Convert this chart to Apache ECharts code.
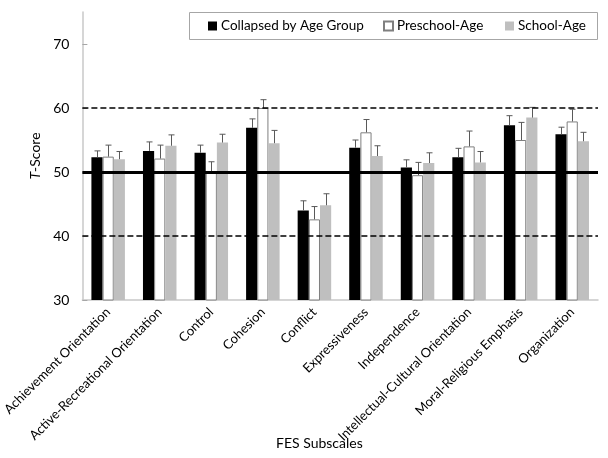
<!DOCTYPE html>
<html>
<head>
<meta charset="utf-8">
<script src="https://cdn.jsdelivr.net/npm/echarts@6/dist/echarts.min.js"></script>
<style>
  html, body { margin: 0; padding: 0; background: #fff; }
  #chart { width: 608px; height: 458px; }
</style>
</head>
<body>
<div id="chart"></div>
<script>
var categories = ['Achievement Orientation', 'Active-Recreational Orientation', 'Control', 'Cohesion',
    'Conflict', 'Expressiveness', 'Independence', 'Intellectual-Cultural Orientation',
    'Moral-Religious Emphasis', 'Organization'];
var collapsed = [52.3, 53.3, 53.0, 56.9, 44.0, 53.8, 50.7, 52.3, 57.3, 55.9];
var collapsedErr = [1.0, 1.4, 1.2, 1.4, 1.5, 1.2, 1.2, 1.4, 1.5, 1.1];
var preschool = [52.4, 52.1, 50.0, 60.0, 42.6, 56.2, 49.5, 54.0, 55.0, 57.9];
var preschoolErr = [1.8, 2.1, 1.6, 1.3, 2.0, 2.0, 2.0, 2.4, 2.75, 1.9];
var school = [52.0, 54.1, 54.6, 54.5, 44.8, 52.5, 51.4, 51.5, 58.5, 54.8];
var schoolErr = [1.2, 1.7, 1.3, 2.0, 1.8, 1.6, 1.6, 1.7, 1.6, 1.4];
var seriesNames = ['Collapsed by Age Group', 'Preschool-Age', 'School-Age'];
var yTicks = [30, 40, 50, 60, 70];

var font = 'Lato';
var gapRatio = 0.35;

// error bar (upper only) drawn over bar number k of the group
function errSeries(k, vals, errs) {
    var data = [];
    for (var i = 0; i < vals.length; i++) data.push([i, vals[i], errs[i]]);
    return {
        type: 'custom',
        z: 5,
        silent: true,
        data: data,
        encode: { x: 0, y: 1 },
        renderItem: function (params, api) {
            var base = api.coord([api.value(0), api.value(1)]);
            var top = api.coord([api.value(0), api.value(1) + api.value(2)]);
            var band = api.size([1, 0])[0];
            var bw = band * (1 - gapRatio) / 3;
            var x = Math.round(base[0] + (k - 1) * bw) + 0.5;
            var style = { stroke: '#595959', lineWidth: 1 };
            return {
                type: 'group',
                children: [
                    { type: 'line', shape: { x1: x, y1: base[1], x2: x, y2: top[1] }, style: style },
                    { type: 'line', shape: { x1: x - 3, y1: top[1], x2: x + 3, y2: top[1] }, style: style }
                ]
            };
        }
    };
}

function legendItem(name, left) {
    return {
        data: [name],
        left: left, top: 19, padding: 0,
        itemWidth: 9, itemHeight: 9, itemGap: 4,
        icon: 'rect',
        textStyle: { fontFamily: font, fontSize: 13.5, color: '#000', padding: [0, 0, 0, -1] }
    };
}

var chart = echarts.init(document.getElementById('chart'));
chart.setOption({
    animation: false,
    textStyle: { fontFamily: font },
    grid: { left: 77, right: 10, top: 12, bottom: 158 },
    legend: [
        legendItem(seriesNames[0], 208),
        legendItem(seriesNames[1], 383),
        legendItem(seriesNames[2], 505)
    ],
    graphic: [
        { type: 'rect', left: 187, top: 10, shape: { width: 408, height: 27 },
          style: { fill: 'none', stroke: '#a6a6a6', lineWidth: 1 }, z: 10 },
        { type: 'text', left: 276, top: 436,
          style: { text: 'FES Subscales', font: '14px ' + font, fill: '#000' } }
    ],
    xAxis: {
        type: 'category',
        data: categories,
        axisLine: { lineStyle: { color: '#c8c8c8', width: 1.5 } },
        axisTick: { show: false },
        axisLabel: { rotate: 45, margin: 10, fontSize: 13, color: '#000', interval: 0, fontFamily: font }
    },
    yAxis: {
        type: 'value',
        min: 30, max: 75, interval: 10,
        name: '{i|T}-Score',
        nameLocation: 'middle',
        nameGap: 38,
        nameTextStyle: {
            fontSize: 14, color: '#000', fontFamily: font,
            rich: { i: { fontStyle: 'italic', fontSize: 14, fontFamily: font, color: '#000' } }
        },
        splitLine: { show: false },
        axisLine: { show: true, lineStyle: { color: '#c8c8c8', width: 1.5 } },
        axisTick: { show: true, inside: true, length: 5, customValues: yTicks, lineStyle: { color: '#a6a6a6' } },
        axisLabel: { customValues: yTicks, margin: 13, fontSize: 14, color: '#000', fontFamily: font }
    },
    series: [
        {
            name: seriesNames[0], type: 'bar', data: collapsed,
            barGap: '0%', barCategoryGap: (gapRatio * 100) + '%',
            itemStyle: { color: '#000' },
            markLine: {
                symbol: 'none', silent: true, z: 6,
                label: { show: false },
                data: [
                    { yAxis: 40, lineStyle: { color: '#000', type: [6, 3], width: 1.5 } },
                    { yAxis: 50, lineStyle: { color: '#000', type: 'solid', width: 3 } },
                    { yAxis: 60, lineStyle: { color: '#000', type: [6, 3], width: 1.5 } }
                ]
            }
        },
        {
            name: seriesNames[1], type: 'bar', data: preschool,
            barGap: '0%', barCategoryGap: (gapRatio * 100) + '%',
            itemStyle: { color: '#fff', borderColor: '#7f7f7f', borderWidth: 1 }
        },
        {
            name: seriesNames[2], type: 'bar', data: school,
            barGap: '0%', barCategoryGap: (gapRatio * 100) + '%',
            itemStyle: { color: '#bfbfbf' }
        },
        errSeries(0, collapsed, collapsedErr),
        errSeries(1, preschool, preschoolErr),
        errSeries(2, school, schoolErr)
    ]
});
</script>
</body>
</html>
